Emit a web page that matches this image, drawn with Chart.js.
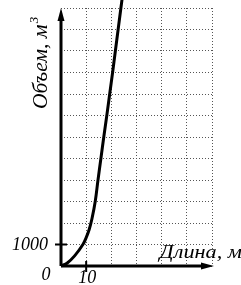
<!DOCTYPE html>
<html>
<head>
<meta charset="utf-8">
<script src="https://cdn.jsdelivr.net/npm/chart.js@4"></script>
<style>
	html, body { margin: 0; padding: 0; background: #fff; }
	canvas { display: block; }
</style>
</head>
<body>
<canvas id="volumeChart" width="241" height="285"></canvas>
<script>
// Данные кривой (длина, м -> объем, м3)
const lengthValues = [0, 2.5, 5.4, 8.7, 10, 11.2, 12.3, 13.6, 14.7, 15.85, 17.0, 18.2, 19.35, 20.5, 21.6, 22.7, 23.8, 24.25];
const volumeValues = [0, 140, 470, 1000, 1320, 1700, 2200, 3000, 4000, 5000, 6000, 7000, 8000, 9000, 10000, 11000, 12000, 12400];
const xTickValues = [10];
const yTickValues = [1000];
const xTitle = 'Длина, м';
const yTitle = 'Объем, м';

const points = lengthValues.map((x, i) => ({ x: x, y: volumeValues[i] }));

const fam = '"Liberation Serif", "DejaVu Serif", serif';

// Оси со стрелками, засечки и подписи
const axesPlugin = {
	id: 'axes',
	afterDraw(chart) {
		const ctx = chart.ctx;
		const xs = chart.scales.x, ys = chart.scales.y;
		const x0 = xs.getPixelForValue(0), y0 = ys.getPixelForValue(0);
		const xEnd = xs.right + 2, yEnd = ys.top;
		ctx.save();
		ctx.strokeStyle = '#000';
		ctx.fillStyle = '#000';
		ctx.lineWidth = 3;
		ctx.beginPath();
		ctx.moveTo(x0, y0);
		ctx.lineTo(xEnd - 10, y0);
		ctx.moveTo(x0, y0);
		ctx.lineTo(x0, yEnd + 10);
		ctx.stroke();
		// стрелки
		ctx.beginPath();
		ctx.moveTo(xEnd, y0);
		ctx.lineTo(xEnd - 13, y0 - 3.5);
		ctx.lineTo(xEnd - 13, y0 + 3.5);
		ctx.closePath();
		ctx.fill();
		ctx.beginPath();
		ctx.moveTo(x0, yEnd);
		ctx.lineTo(x0 - 3.5, yEnd + 13);
		ctx.lineTo(x0 + 3.5, yEnd + 13);
		ctx.closePath();
		ctx.fill();
		// засечки
		ctx.lineWidth = 2;
		ctx.beginPath();
		yTickValues.forEach(v => {
			const py = ys.getPixelForValue(v);
			ctx.moveTo(x0 - 6, py);
			ctx.lineTo(x0 + 6, py);
		});
		xTickValues.forEach(v => {
			const px = xs.getPixelForValue(v);
			ctx.moveTo(px, y0 - 5);
			ctx.lineTo(px, y0 + 6);
		});
		ctx.stroke();
		// подписи
		ctx.font = 'italic 18px ' + fam;
		ctx.textBaseline = 'middle';
		ctx.textAlign = 'right';
		yTickValues.forEach(v => ctx.fillText(String(v), x0 - 13, ys.getPixelForValue(v) + 1));
		ctx.textAlign = 'center';
		xTickValues.forEach(v => ctx.fillText(String(v), xs.getPixelForValue(v) + 1, y0 + 12));
		ctx.fillText('0', x0 - 15, y0 + 9);
		// подпись оси X
		ctx.save();
		ctx.font = 'italic 19px ' + fam;
		ctx.textAlign = 'right';
		ctx.textBaseline = 'alphabetic';
		ctx.translate(242, y0 - 8);
		ctx.scale(1.17, 1);
		ctx.fillText(xTitle, 0, 0);
		ctx.restore();
		// подпись оси Y
		ctx.translate(47, 109);
		ctx.rotate(-Math.PI / 2);
		ctx.scale(1.08, 1);
		ctx.textAlign = 'left';
		ctx.textBaseline = 'alphabetic';
		ctx.font = 'italic 20px ' + fam;
		ctx.fillText(yTitle, 0, 0);
		const w = ctx.measureText(yTitle).width;
		ctx.font = 'italic 12px ' + fam;
		ctx.fillText('3', w + 1, -9);
		ctx.restore();
	}
};

new Chart(document.getElementById('volumeChart'), {
	type: 'scatter',
	data: {
		datasets: [{
			data: points,
			showLine: true,
			borderColor: '#000',
			borderWidth: 3,
			pointRadius: 0,
			tension: 0.4,
			clip: false
		}]
	},
	options: {
		responsive: false,
		animation: false,
		layout: { padding: { left: 61, right: 29, top: 8, bottom: 19 } },
		plugins: { legend: { display: false }, tooltip: { enabled: false } },
		scales: {
			x: {
				type: 'linear', min: 0, max: 60,
				ticks: { display: false, stepSize: 10 },
				grid: { color: '#555', lineWidth: 1, drawTicks: false },
				border: { display: false, dash: [1, 2] }
			},
			y: {
				type: 'linear', min: 0, max: 12000,
				ticks: { display: false, stepSize: 1000 },
				grid: { color: '#555', lineWidth: 1, drawTicks: false },
				border: { display: false, dash: [1, 2] }
			}
		}
	},
	plugins: [axesPlugin]
});
</script>
</body>
</html>
